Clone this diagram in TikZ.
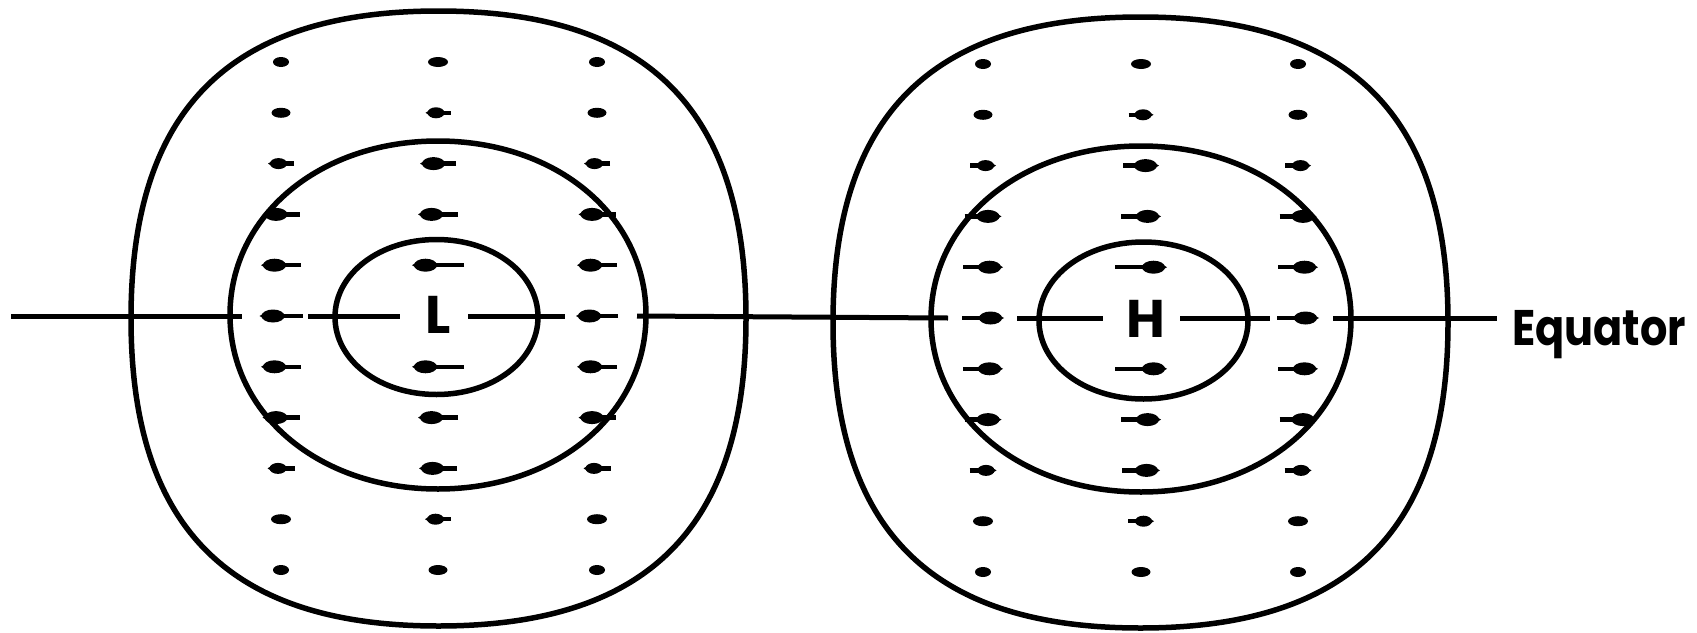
\documentclass[tikz,border=0pt]{standalone}
\usepackage{fontspec}
\usepackage{graphicx}
\setmainfont{Poppins}
\newcommand\isobar[5]{% cx cy a b k
 \draw[contour] ({#1+#3},{#2}) .. controls ({#1+#3},{#2+#5*#4}) and ({#1+#5*#3},{#2+#4}) .. ({#1},{#2+#4})
  .. controls ({#1-#5*#3},{#2+#4}) and ({#1-#3},{#2+#5*#4}) .. ({#1-#3},{#2})
  .. controls ({#1-#3},{#2-#5*#4}) and ({#1-#5*#3},{#2-#4}) .. ({#1},{#2-#4})
  .. controls ({#1+#5*#3},{#2-#4}) and ({#1+#3},{#2-#5*#4}) .. ({#1+#3},{#2}) -- cycle;}
% head: tipx y dir length halfwidth
\newcommand\windhead[5]{%
 \fill ({#1-(#3)*#4/2},{#2}) ellipse [x radius={#4/2}, y radius=#5];
 \fill ({#1+(#3)*2},{#2}) -- ({#1-(#3)*#4*0.3},{#2-#5*0.8}) -- ({#1-(#3)*#4*0.3},{#2+#5*0.8}) -- cycle;}
\newcommand\wind[4]{% x y len dir
 \ifdim #3pt<22pt
   \fill ({#1},{#2}) ellipse [x radius={#3/2}, y radius=5];
 \else
   \draw[windline] ({#1-(#4)*#3/2},{#2}) -- ({#1+(#4)*(#3/2-3)},{#2});
   \ifdim #3pt<34pt
     \windhead{#1+(#4)*(#3/2-2)}{#2}{#4}{17}{5.5}
   \else
     \windhead{#1+(#4)*(#3/2-2)}{#2}{#4}{23}{6.5}
   \fi
 \fi}
\begin{document}
\begin{tikzpicture}[x=1pt,y=-1pt,line join=round,
  contour/.style={line width=5.5pt},
  eqline/.style={line width=5pt},
  windline/.style={line width=4.5pt},
  lbl/.style={font=\fontsize{53}{60}\selectfont\bfseries,inner sep=0pt,anchor=base},
  eqlbl/.style={font=\fontsize{50}{60}\selectfont\bfseries,inner sep=0pt,anchor=base west}]
\useasboundingbox (0,0) rectangle (1697,632);
\fill[white] (0,0) rectangle (1697,632);

% isobars, low system
\isobar{438.5}{318.5}{307.5}{307.5}{0.68}
\isobar{438}{315}{208}{174}{0.57}
\isobar{436.5}{317}{101.5}{77.5}{0.56}
% isobars, high system
\isobar{1140.5}{322.5}{307.5}{305.5}{0.68}
\isobar{1141}{319}{210}{173}{0.57}
\isobar{1143.5}{320.5}{104.5}{78.5}{0.56}

% labels
\node[lbl] (L) at (438,333) {L};
\node[lbl] (H) at (1146,337) {H};
\node[eqlbl] (eq) at (1512,345) {\resizebox{174pt}{\height}{Equator}};

% equator
\draw[eqline] (11,316) -- (242,316);
\draw[eqline] (308,316) -- (400,316);
\draw[eqline] (468,316) -- (565,316);
\draw[eqline] (637,316) -- (948,318);
\draw[eqline] (1017,318) -- (1103,318);
\draw[eqline] (1180,318) -- (1270,318);
\draw[eqline] (1333,318) -- (1497,318);

% winds: westward round L, eastward round H
\foreach \k/\ls/\lc in {-5/16/20,-4/19/25,-3/26/36,-2/37/40,-1/40/52,1/40/52,2/37/40,3/27/38,4/20/26,5/16/19}{
  \wind{281}{316+50.8*(\k)}{\ls}{-1}
  \wind{438}{316+50.8*(\k)}{\lc}{-1}
  \wind{597}{316+50.8*(\k)}{\ls}{-1}
  \wind{983}{318+50.8*(\k)}{\ls}{1}
  \wind{1141}{318+50.8*(\k)}{\lc}{1}
  \wind{1298}{318+50.8*(\k)}{\ls}{1}
}
\wind{281}{316}{43}{-1}
\wind{597}{316}{42}{-1}
\wind{983}{318}{42}{1}
\wind{1298}{318}{42}{1}
\end{tikzpicture}
\end{document}
